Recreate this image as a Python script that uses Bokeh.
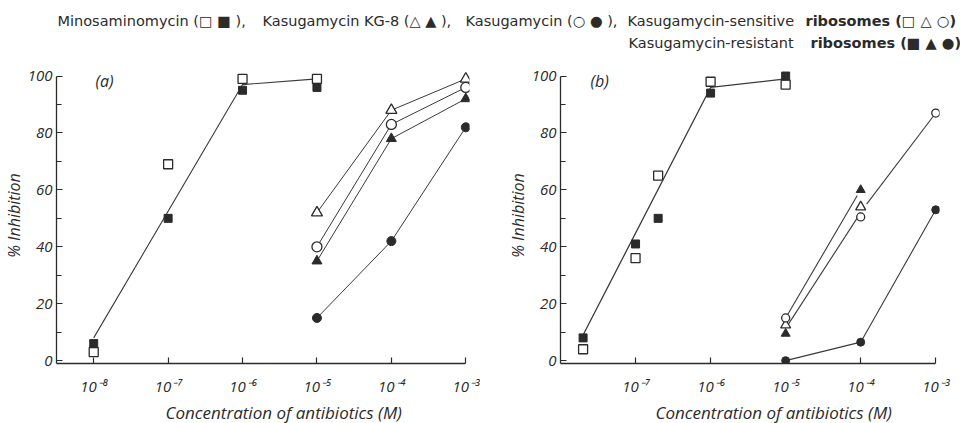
from bokeh.plotting import figure
from bokeh.models import Range1d, FixedTicker, Label, Title
from bokeh.layouts import column, row
from bokeh.embed import file_html
from bokeh.resources import INLINE

# ---------------- data ----------------
decades = [1e-8, 1e-7, 1e-6, 1e-5, 1e-4, 1e-3]
decade_labels = ["10⁻⁸", "10⁻⁷", "10⁻⁶", "10⁻⁵", "10⁻⁴", "10⁻³"]
y_major = [0, 20, 40, 60, 80, 100]
y_minor = [10, 30, 50, 70, 90]

# panel (a)
a_mino_x = [1e-8, 1e-7, 1e-6, 1e-5]
a_mino_sens = [3, 69, 99, 99]
a_mino_res = [6, 50, 95, 96]
a_mino_fit_x = [1e-8, 1e-6, 1e-5]
a_mino_fit_y = [8, 97, 99]
a_kas_x = [1e-5, 1e-4, 1e-3]
a_kg8_sens = [52, 88, 99]
a_kg8_res = [35, 78, 92]
a_kas_sens = [40, 83, 96]
a_kas_res = [15, 42, 82]

# panel (b)
b_mino_x = [2e-8, 1e-7, 2e-7, 1e-6, 1e-5]
b_mino_sens = [4, 36, 65, 98, 97]
b_mino_res = [8, 41, 50, 94, 100]
b_mino_fit_x = [2e-8, 1e-6, 1e-5]
b_mino_fit_y = [9, 96, 99]
b_kg8_x = [1e-5, 1e-4]
b_kg8_sens = [12.5, 54]
b_kg8_res = [9.5, 60]
b_kas_x = [1e-5, 1e-4, 1e-3]
b_kas_sens = [15, 50.5, 87]
b_kas_res = [0, 6.5, 53]
b_fit1_x = [1e-5, 9e-5]
b_fit1_y = [15, 58]
b_fit2_x = [1.1e-5, 1e-4]
b_fit2_y = [13, 52]
b_fit3_x = [1.2e-4, 1e-3]
b_fit3_y = [55, 87]

INK = "#2b2b2b"
LINE = "#3a3a3a"
FONT = "Open Sans"


def make_panel(width, border_left, border_right, xstart, ticks, tag, tag_x,
               xlab_offset, ylab_offset):
    p = figure(width=width, height=365, x_axis_type="log",
               x_range=Range1d(xstart, 10 ** -2.95), y_range=Range1d(-1, 103),
               toolbar_location=None, output_backend="svg",
               min_border_left=border_left, min_border_right=border_right,
               min_border_top=9, min_border_bottom=58)
    p.outline_line_color = None
    p.grid.visible = False
    p.background_fill_color = "white"
    p.border_fill_color = "white"

    p.xaxis.ticker = FixedTicker(ticks=ticks, minor_ticks=[])
    p.xaxis.major_label_overrides = {d: l for d, l in zip(decades, decade_labels)}
    p.xaxis.bounds = (xstart, 1e-3)
    p.yaxis.ticker = FixedTicker(ticks=y_major, minor_ticks=y_minor)
    p.yaxis.bounds = (-1, 100)
    for ax in (p.xaxis, p.yaxis):
        ax.major_tick_in = 6
        ax.major_tick_out = 0
        ax.minor_tick_in = 5
        ax.minor_tick_out = 0
        ax.axis_line_color = INK
        ax.axis_line_width = 1.3
        ax.major_tick_line_color = INK
        ax.minor_tick_line_color = INK
        ax.major_tick_line_width = 1.2
        ax.minor_tick_line_width = 1.2
        ax.major_label_text_font = FONT
        ax.major_label_text_font_style = "italic"
        ax.major_label_text_color = INK
        ax.major_label_text_font_size = "15px"
    p.xaxis.major_label_standoff = 12
    p.yaxis.major_label_standoff = 4

    p.add_layout(Label(x=tag_x, y=283, x_units="screen", y_units="screen",
                       text=tag, text_font=FONT, text_font_style="italic",
                       text_font_size="16px", text_color=INK,
                       text_baseline="middle", text_align="left"))
    p.add_layout(Title(text="Concentration of antibiotics (M)", align="left",
                       offset=xlab_offset, standoff=0,
                       text_font=FONT, text_font_style="italic",
                       text_font_size="17px", text_color=INK), "below")
    p.add_layout(Title(text="% Inhibition", align="center",
                       offset=ylab_offset, standoff=0,
                       text_font=FONT, text_font_style="italic",
                       text_font_size="16px", text_color=INK), "left")
    return p


def open_marks(p, kind, x, y, size):
    p.scatter(x, y, marker=kind, size=size, fill_color="white",
              line_color=INK, line_width=1.3)


def filled_marks(p, kind, x, y, size):
    p.scatter(x, y, marker=kind, size=size, fill_color=INK,
              line_color=INK, line_width=1.0)


# ---------------- panel (a) ----------------
pa = make_panel(480, 53, 11, 10 ** -8.5, decades, "(a)", 39, 109, -5)
pa.line(a_mino_fit_x, a_mino_fit_y, line_color=LINE, line_width=1.1)
for ys in (a_kg8_sens, a_kg8_res, a_kas_sens, a_kas_res):
    pa.line(a_kas_x, ys, line_color=LINE, line_width=1.0)
open_marks(pa, "square", a_mino_x, a_mino_sens, 9)
filled_marks(pa, "square", a_mino_x, a_mino_res, 8)
open_marks(pa, "triangle", a_kas_x, a_kg8_sens, 11)
filled_marks(pa, "triangle", a_kas_x, a_kg8_res, 10)
open_marks(pa, "circle", a_kas_x, a_kas_sens, 10)
filled_marks(pa, "circle", a_kas_x, a_kas_res, 9)

# ---------------- panel (b) ----------------
pb = make_panel(480, 80, 21, 1e-8, decades[1:], "(b)", 30, 95, 6)
pb.line(b_mino_fit_x, b_mino_fit_y, line_color=LINE, line_width=1.3)
pb.line(b_fit1_x, b_fit1_y, line_color=LINE, line_width=1.1)
pb.line(b_fit2_x, b_fit2_y, line_color=LINE, line_width=1.1)
pb.line(b_fit3_x, b_fit3_y, line_color=LINE, line_width=1.1)
pb.line(b_kas_x, b_kas_res, line_color=LINE, line_width=1.1)
open_marks(pb, "square", b_mino_x, b_mino_sens, 9)
filled_marks(pb, "square", b_mino_x, b_mino_res, 8)
open_marks(pb, "triangle", b_kg8_x, b_kg8_sens, 10)
filled_marks(pb, "triangle", b_kg8_x, b_kg8_res, 9)
open_marks(pb, "circle", b_kas_x, b_kas_sens, 8)
filled_marks(pb, "circle", b_kas_x, b_kas_res, 8)

# ---------------- header (legend text) ----------------
head = figure(width=960, height=58, x_range=(0, 1), y_range=(0, 1),
              toolbar_location=None, output_backend="svg", min_border=0,
              x_axis_location=None, y_axis_location=None)
head.outline_line_color = None
head.grid.visible = False
HFONT = "DejaVu Sans"
pieces = [
    ("Minosaminomycin (□ ■ ),", 57, 38, "normal"),
    ("Kasugamycin KG-8 (△ ▲ ),", 262, 38, "normal"),
    ("Kasugamycin (○ ● ),", 465, 38, "normal"),
    ("Kasugamycin-sensitive", 627, 38, "normal"),
    ("ribosomes (□ △ ○)", 805, 38, "bold"),
    ("Kasugamycin-resistant", 628, 16, "normal"),
    ("ribosomes (■ ▲ ●)", 810, 16, "bold"),
]
for txt, x, y, style in pieces:
    head.add_layout(Label(x=x, y=y, x_units="screen", y_units="screen", text=txt,
                          text_font=HFONT, text_font_size="14.5px",
                          text_font_style=style, text_color=INK,
                          text_baseline="middle", text_align="left"))

layout = column(head, row(pa, pb))
open("out.html", "w").write(file_html(layout, INLINE))
